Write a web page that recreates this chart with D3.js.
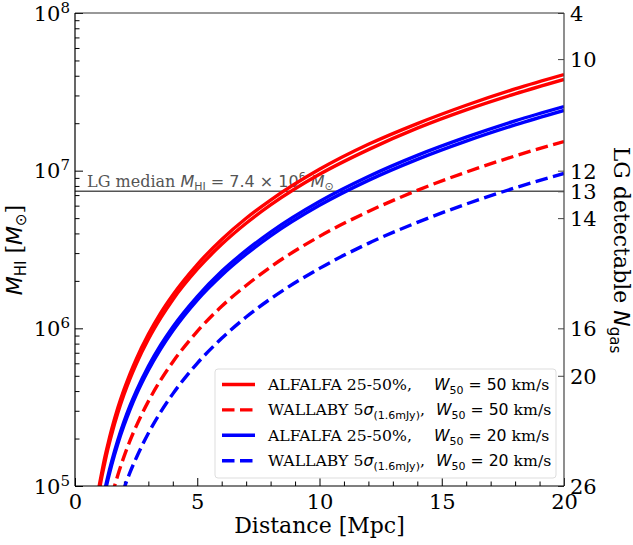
<!DOCTYPE html>
<html><head><meta charset="utf-8">
<script src="https://cdn.jsdelivr.net/npm/d3@7"></script>
<style>body{margin:0;background:#fff}</style>
</head><body><svg id="c" width="633" height="545"></svg>
<script>
// ---- data ----
const distances = [0.9,1,1.1,1.2,1.35,1.5,1.75,2,2.25,2.5,3,3.5,4,5,6,7,8,10,12,14,16,18,20];
const alfalfa50W50 = [8.24e4,1.02e5,1.23e5,1.47e5,1.85e5,2.29e5,3.12e5,4.07e5,5.15e5,6.36e5,9.16e5,1.25e6,1.63e6,2.54e6,3.66e6,4.99e6,6.51e6,1.02e7,1.47e7,1.99e7,2.60e7,3.30e7,4.07e7];
const alfalfa25W50 = [7.67e4,9.48e4,1.15e5,1.36e5,1.73e5,2.13e5,2.90e5,3.79e5,4.80e5,5.92e5,8.53e5,1.16e6,1.52e6,2.37e6,3.41e6,4.64e6,6.06e6,9.48e6,1.36e7,1.86e7,2.43e7,3.07e7,3.79e7];
const alfalfa50W20 = [5.16e4,6.38e4,7.71e4,9.18e4,1.16e5,1.43e5,1.95e5,2.55e5,3.23e5,3.98e5,5.74e5,7.81e5,1.02e6,1.59e6,2.30e6,3.12e6,4.08e6,6.38e6,9.18e6,1.25e7,1.63e7,2.07e7,2.55e7];
const alfalfa25W20 = [4.88e4,6.03e4,7.29e4,8.68e4,1.10e5,1.36e5,1.85e5,2.41e5,3.05e5,3.77e5,5.42e5,7.38e5,9.64e5,1.51e6,2.17e6,2.95e6,3.86e6,6.03e6,8.68e6,1.18e7,1.54e7,1.95e7,2.41e7];
const wallabyW50 = [3.10e4,3.83e4,4.63e4,5.51e4,6.97e4,8.61e4,1.17e5,1.53e5,1.94e5,2.39e5,3.44e5,4.69e5,6.12e5,9.56e5,1.38e6,1.87e6,2.45e6,3.83e6,5.51e6,7.50e6,9.79e6,1.24e7,1.53e7];
const wallabyW20 = [1.94e4,2.40e4,2.90e4,3.46e4,4.37e4,5.40e4,7.35e4,9.60e4,1.22e5,1.50e5,2.16e5,2.94e5,3.84e5,6.00e5,8.64e5,1.18e6,1.54e6,2.40e6,3.46e6,4.70e6,6.14e6,7.78e6,9.60e6];
const xTicks = [0,5,10,15,20];
const yTicks = [1e5,1e6,1e7,1e8];
const yExponents = ["5","6","7","8"];
const rightTickMass = [1e8,5.1e7,1e7,7.4e6,5.0e6,1.0e6,5.0e5,1e5];
const rightTickLabels = ["4","10","12","13","14","16","20","26"];
const lgMedian = 7.4e6;
const legendSurvey = ["ALFALFA 25-50%,", "WALLABY", "ALFALFA 25-50%,", "WALLABY"];
const legendWidth = ["50","50","20","20"];

// ---- layout ----
const SERIF = "'DejaVu Serif', serif", SANS = "'DejaVu Sans', sans-serif";
const L = 75, R = 564, T = 13, B = 486;
const svg = d3.select("#c");
const x = d3.scaleLinear().domain([0,20]).range([L,R]);
const y = d3.scaleLog().domain([1e5,1e8]).range([B,T]);

svg.append("defs").append("clipPath").attr("id","clip")
  .append("rect").attr("x",L).attr("y",T).attr("width",R-L).attr("height",B-T);

// minor tick positions
const xMinor = d3.range(0,21).filter(v => v % 5 !== 0);
const yMinor = [];
[5,6,7].forEach(k => { for (let m = 2; m <= 9; m++) yMinor.push(m * Math.pow(10,k)); });

// axes (inward ticks)
const gx = svg.append("g").attr("transform",`translate(0,${B})`);
gx.call(d3.axisBottom(x).tickValues(xTicks).tickSize(-8).tickSizeOuter(0).tickPadding(8));
gx.append("g").call(d3.axisBottom(x).tickValues(xMinor).tickSize(-4.5).tickSizeOuter(0).tickFormat(""));
gx.selectAll(".domain").remove();
gx.selectAll("line").attr("stroke","#000").attr("stroke-width",1);
gx.selectAll("text").attr("font-family",SERIF).attr("font-size",21).attr("fill","#000");

const gy = svg.append("g").attr("transform",`translate(${L},0)`);
gy.call(d3.axisLeft(y).tickValues(yTicks).tickSize(-8).tickSizeOuter(0).tickFormat(""));
gy.append("g").call(d3.axisLeft(y).tickValues(yMinor).tickSize(-4.5).tickSizeOuter(0).tickFormat(""));
gy.selectAll(".domain").remove();
gy.selectAll("line").attr("stroke","#000").attr("stroke-width",1);
yTicks.forEach((v,i) => {
  const t = svg.append("text").attr("x",L-5).attr("y",y(v)).attr("dy","0.36em")
    .attr("text-anchor","end").attr("font-family",SERIF).attr("font-size",21);
  t.append("tspan").text("10");
  t.append("tspan").attr("font-size",15).attr("dy",-8).text(yExponents[i]);
});

// right axis
const gr = svg.append("g").attr("transform",`translate(${R},0)`);
gr.call(d3.axisRight(y).tickValues(rightTickMass).tickSize(-6).tickSizeOuter(0)
  .tickFormat((d,i) => rightTickLabels[i]).tickPadding(6));
gr.selectAll(".domain").remove();
gr.selectAll("line").attr("stroke","#444");
gr.selectAll("text").attr("font-family",SERIF).attr("font-size",21).attr("fill","#000").attr("dy","0.36em");

// horizontal LG median line
svg.append("line").attr("x1",L).attr("x2",R).attr("y1",y(lgMedian)).attr("y2",y(lgMedian))
  .attr("stroke","#555").attr("stroke-width",1.5);
const lt = svg.append("text").attr("x",87).attr("y",y(lgMedian)-4.5).attr("fill","#555")
  .attr("font-size",16).attr("font-family",SERIF);
lt.append("tspan").text("LG median ");
lt.append("tspan").attr("font-family",SANS).attr("font-style","italic").text("M");
lt.append("tspan").attr("font-family",SANS).attr("font-size",11).attr("dy",3).text("HI");
lt.append("tspan").attr("font-family",SANS).attr("dy",-3).text(" = 7.4 × 10");
lt.append("tspan").attr("font-family",SANS).attr("font-size",11).attr("dy",-7).text("6");
lt.append("tspan").attr("font-family",SANS).attr("font-style","italic").attr("dy",7).text(" M");
lt.append("tspan").attr("font-family",SANS).attr("font-size",11).attr("dy",3).text("⊙");

// curves
const line = d3.line().x((d,i) => x(distances[i])).y(d => y(d)).curve(d3.curveMonotoneX);
const plot = svg.append("g").attr("clip-path","url(#clip)");
const LW = 3.4, DASH = "12.5,5.5";
const series = [
  {v: wallabyW20, c:"#0000ff", d:DASH},
  {v: wallabyW50, c:"#ff0000", d:DASH},
  {v: alfalfa25W20, c:"#0000ff", d:null},
  {v: alfalfa50W20, c:"#0000ff", d:null},
  {v: alfalfa25W50, c:"#ff0000", d:null},
  {v: alfalfa50W50, c:"#ff0000", d:null}
];
series.forEach(s => {
  plot.append("path").attr("d", line(s.v)).attr("fill","none").attr("stroke",s.c)
    .attr("stroke-width",LW).attr("stroke-dasharray",s.d);
});

// frame
svg.append("line").attr("x1",L).attr("x2",R).attr("y1",T).attr("y2",T).attr("stroke","#333");
svg.append("line").attr("x1",R).attr("x2",R).attr("y1",T).attr("y2",B).attr("stroke","#444").attr("stroke-width",1.2);
svg.append("line").attr("x1",L).attr("x2",L).attr("y1",T).attr("y2",B).attr("stroke","#000").attr("stroke-width",1.2);
svg.append("line").attr("x1",L).attr("x2",R).attr("y1",B).attr("y2",B).attr("stroke","#000").attr("stroke-width",1.2);

// legend
svg.append("rect").attr("x",215).attr("y",369).attr("width",341).attr("height",109).attr("rx",3)
  .attr("fill","#fff").attr("fill-opacity",0.85).attr("stroke","#ddd");
const legColors = ["#ff0000","#ff0000","#0000ff","#0000ff"];
const legDash = [null,DASH,null,DASH];
legendSurvey.forEach((name,i) => {
  const cy = 384.5 + i*25.4;
  svg.append("line").attr("x1",222).attr("x2",255).attr("y1",cy).attr("y2",cy)
    .attr("stroke",legColors[i]).attr("stroke-width",LW).attr("stroke-dasharray",legDash[i]);
  const t = svg.append("text").attr("x",268).attr("y",cy+5.5).attr("font-family",SERIF).attr("font-size",15.7).attr("fill","#000");
  if (name === "WALLABY") {
    t.append("tspan").text("WALLABY 5");
    t.append("tspan").attr("font-family",SANS).attr("font-style","italic").text("σ");
    t.append("tspan").attr("font-family",SANS).attr("font-size",11).attr("dy",4).text("(1.6mJy)");
    t.append("tspan").attr("dy",-4).text(",");
  } else {
    t.append("tspan").text(name);
  }
  const wx = name === "WALLABY" ? 436 : 434;
  t.append("tspan").attr("x",wx).attr("font-family",SANS).attr("font-style","italic").text("W");
  t.append("tspan").attr("font-family",SANS).attr("font-size",11).attr("dy",4).text("50");
  t.append("tspan").attr("font-family",SANS).attr("dy",-4).text(" = " + legendWidth[i] + " ");
  t.append("tspan").text("km/s");
});

// axis labels
svg.append("text").attr("x",(L+R)/2).attr("y",533).attr("text-anchor","middle")
  .attr("font-family",SERIF).attr("font-size",22).text("Distance [Mpc]");
const yl = svg.append("text").attr("transform","translate(22,250) rotate(-90)").attr("text-anchor","middle")
  .attr("font-family",SERIF).attr("font-size",22);
yl.append("tspan").attr("font-family",SANS).attr("font-style","italic").text("M");
yl.append("tspan").attr("font-family",SANS).attr("font-size",15).attr("dy",4).text("HI");
yl.append("tspan").attr("dy",-4).text(" [");
yl.append("tspan").attr("font-family",SANS).attr("font-style","italic").text("M");
yl.append("tspan").attr("font-family",SANS).attr("font-size",15).attr("dy",4).text("⊙");
yl.append("tspan").attr("dy",-4).text("]");
const rl = svg.append("text").attr("transform","translate(614,250) rotate(90)").attr("text-anchor","middle")
  .attr("font-family",SERIF).attr("font-size",22);
rl.append("tspan").text("LG detectable ");
rl.append("tspan").attr("font-family",SANS).attr("font-style","italic").text("N");
rl.append("tspan").attr("font-family",SANS).attr("font-size",15).attr("dy",4).text("gas");
</script></body></html>
